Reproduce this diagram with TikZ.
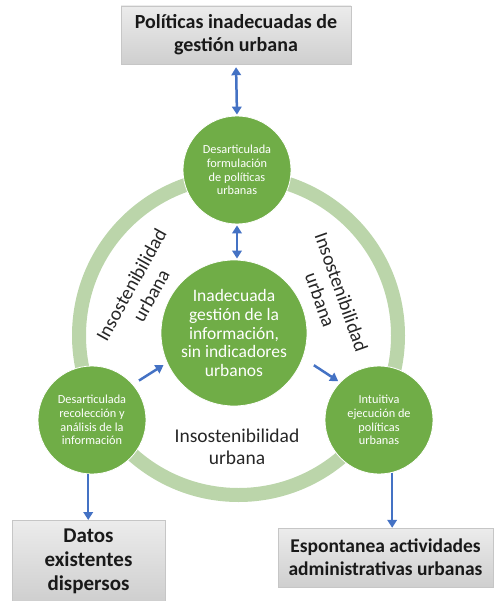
\documentclass[tikz,border=0pt]{standalone}
\usepackage{fontspec}
\setmainfont{Carlito}
\usepackage{xcolor}
\usepackage{tikz}
\usetikzlibrary{positioning,calc,arrows.meta}
\definecolor{hoja}{HTML}{70AD47}
\definecolor{anillo}{HTML}{BBD5AA}
\definecolor{azul}{HTML}{4472C4}

\begin{document}
\begin{tikzpicture}[x=1pt, y=-1pt,
    bolla/.style={circle, fill=hoja, draw=white, line width=0.8pt, text=white, inner sep=0pt,
        minimum size=108pt, align=center, font=\fontsize{12.3}{13.7}\selectfont},
    caja/.style={draw=gray!45, top color=gray!15, bottom color=gray!38, inner sep=2pt,
        align=center, text=black!90, font=\fontsize{20}{23}\selectfont\bfseries},
    flecha/.style={draw=azul, line width=2.5pt, -{Triangle[width=9.5pt,length=8pt]}},
    doble/.style={flecha, {Triangle[width=9.5pt,length=8pt]}-{Triangle[width=9.5pt,length=8pt]}},
    rotulo/.style={align=center, text=black!85, font=\fontsize{19.5}{22.5}\selectfont}]
    \useasboundingbox (0,0) rectangle (494,601);

    % ring
    \coordinate (centro) at (238.5,335.5);
    \draw [anillo, line width=14pt] (centro) circle [radius=159.5pt];

    % circles
    \node [bolla] (form) at (237,170) {Desarticulada\\formulaci\'on\\de pol\'iticas\\urbanas};
    \node [bolla] (reco) at (92,420) {Desarticulada\\recolecci\'on y\\an\'alisis de la\\informaci\'on};
    \node [bolla] (ejec) at (379,420) {Intuitiva\\ejecuci\'on de\\pol\'iticas\\urbanas};
    \node [bolla, minimum size=146pt, font=\fontsize{17.5}{18.8}\selectfont] (info) at (234,333)
        {Inadecuada\\gesti\'on de la\\informaci\'on,\\sin indicadores\\urbanos};

    % ring labels
    \node [rotulo, rotate=61] (izq) at (141,290) {Insostenibilidad\\urbana};
    \node [rotulo, rotate=-70.5] (der) at (331,296) {Insostenibilidad\\urbana};
    \node [rotulo] (aba) at (237,447) {Insostenibilidad\\urbana};

    % boxes
    \node [caja, minimum width=230pt, minimum height=58pt] (poli) at (236,35)
        {Pol\'iticas inadecuadas de\\gesti\'on urbana};
    \node [caja, minimum width=153pt, minimum height=82pt, anchor=north,
        font=\fontsize{21}{24}\selectfont\bfseries] (datos) at (88.5,520)
        {Datos\\existentes\\dispersos};
    \node [caja, minimum width=215pt, minimum height=59pt, font=\fontsize{19.5}{23}\selectfont\bfseries]
        (espo) at (385.5,557.5) {Espontanea actividades\\administrativas urbanas};

    % arrows
    \draw [doble, shorten <=3pt, shorten >=1pt] (poli.south) -- (form.north);
    \draw [doble, shorten <=1pt, shorten >=1pt] (form.south) -- (form.south |- info.north);
    \draw [flecha, shorten <=7pt, shorten >=4pt] (reco.41) -- (info.204);
    \draw [flecha, shorten <=13pt, shorten >=2pt] (info.-20) -- (ejec.136);
    \draw [flecha] (reco.266) -- (reco.266 |- datos.north);
    \draw [flecha] (ejec.284) -- (ejec.284 |- espo.north);
\end{tikzpicture}
\end{document}
